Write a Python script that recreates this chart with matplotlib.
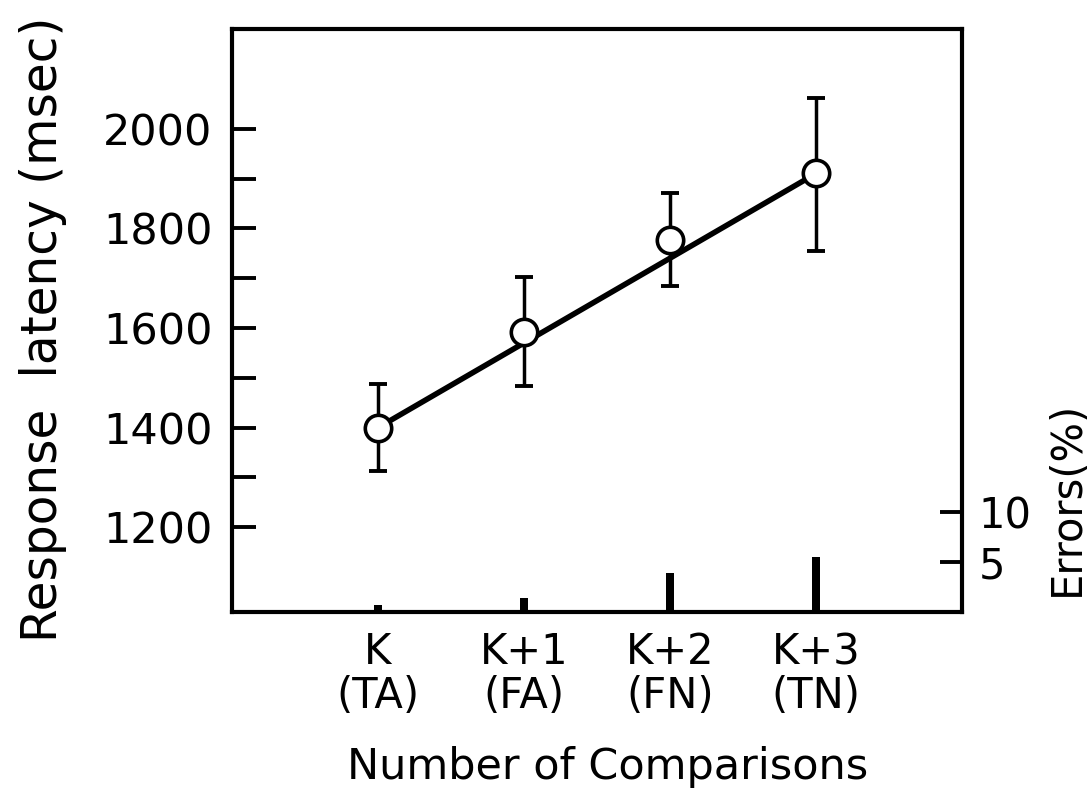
import numpy as np
import matplotlib.pyplot as plt

# Values
labels = ["K\n(TA)", "K+1\n(FA)", "K+2\n(FN)", "K+3\n(TN)"]
positions = [1, 2, 3, 4]
latency = [1400, 1592, 1777, 1911]
err_low = [1314, 1483, 1685, 1754]
err_high = [1488, 1702, 1871, 2062]
line_values = [1400, 1570, 1740, 1910]   # straight line as drawn
errors_pct = [0.7, 1.4, 3.9, 5.5]

fig = plt.figure(figsize=(10.9, 7.93), dpi=100)
ax = fig.add_axes([0.2128, 0.2282, 0.6697, 0.7352])

lat = np.array(latency)
yerr = [lat - np.array(err_low), np.array(err_high) - lat]

ax.errorbar(positions, latency, yerr=yerr, fmt="none", ecolor="black",
            elinewidth=2.5, capsize=6.5, capthick=2.8, zorder=2)
ax.plot(positions, line_values, color="black", lw=4, zorder=3)
ax.plot(positions, latency, "o", ms=19, mfc="white", mec="black", mew=2.6, zorder=4)

ax.set_xlim(0, 5)
ax.set_ylim(1030, 2200)
ax.set_yticks([1200, 1400, 1600, 1800, 2000])
ax.set_yticks([1300, 1500, 1700, 1900], minor=True)
ax.set_xticks(positions)
ax.set_xticklabels(labels, fontsize=30, linespacing=1.05)
ax.tick_params(axis="y", which="both", direction="in", length=17, width=2.8,
               labelsize=31, pad=14)
ax.tick_params(axis="x", length=0, pad=14)
for s in ax.spines.values():
    s.set_linewidth(3)

# Errors on a second axis at the bottom
ax2 = ax.twinx()
ax2.bar(positions, errors_pct, width=0.05, color="black", zorder=3)
ax2.set_ylim(0, 58.3)
ax2.set_yticks([5, 10])
ax2.tick_params(axis="y", direction="in", length=16, width=2.8, labelsize=30, pad=12)
for s in ax2.spines.values():
    s.set_visible(False)

fig.text(0.039, 0.585, "Response  latency (msec)", rotation=90, fontsize=35,
         ha="center", va="center")
fig.text(0.979, 0.372, "Errors(%)", rotation=90, fontsize=30,
         ha="center", va="center")
fig.text(0.557, 0.033, "Number of Comparisons", fontsize=31,
         ha="center", va="center")

fig.savefig("out.png", dpi=100)
